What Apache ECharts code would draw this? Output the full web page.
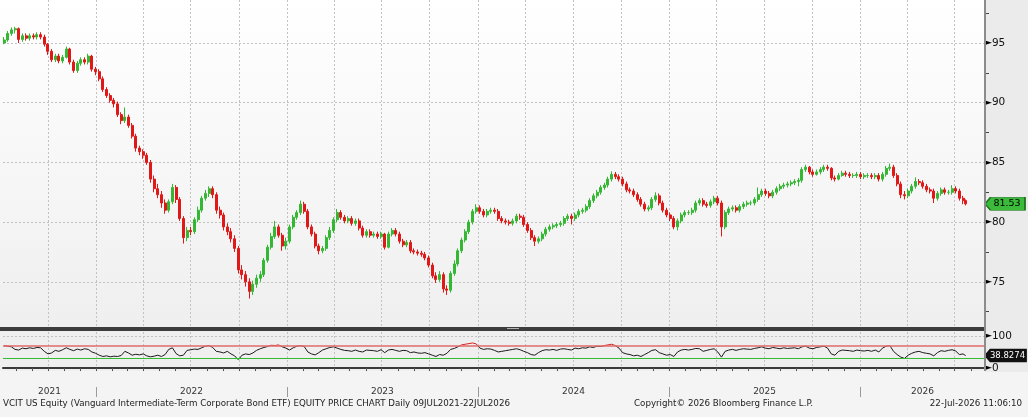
<!DOCTYPE html>
<html>
<head>
<meta charset="utf-8">
<script src="https://cdn.jsdelivr.net/npm/echarts@6/dist/echarts.min.js"></script>
<style>
html, body { margin: 0; padding: 0; background: #f4f4f4; }
#chart { width: 1028px; height: 417px; }
</style>
</head>
<body>
<div id="chart"></div>
<script>
// weekly candles, first week 09JUL2021, last bar 22JUL2026
const firstDay = Date.UTC(2021, 6, 9)
const lastDay = Date.UTC(2026, 6, 22)

const opens = [
  95.0, 95.25, 95.8, 96.1, 96.2, 95.3, 95.6, 95.4, 95.6, 95.5,
  95.7, 95.5, 94.9, 94.3, 93.6, 93.9, 93.5, 93.8, 94.5, 93.4,
  92.7, 93.3, 93.6, 93.4, 93.9, 92.8, 92.6, 92.0, 91.1, 90.6,
  90.2, 89.9, 89.0, 88.5, 88.8, 88.1, 87.2, 86.2, 85.9, 85.6,
  85.0, 83.6, 82.8, 82.3, 81.6, 81.0, 81.7, 82.9, 81.9, 80.3,
  78.7, 79.3, 79.2, 80.2, 81.0, 82.0, 82.4, 82.8, 82.3, 81.0,
  80.6, 79.6, 79.2, 78.6, 77.8, 76.0, 75.6, 75.0, 74.2, 74.8,
  75.3, 75.6, 76.8, 77.9, 78.8, 79.6, 78.9, 78.0, 78.4, 79.6,
  80.4, 80.8, 81.5, 80.9, 79.6, 79.0, 78.0, 77.6, 77.8, 78.7,
  79.3, 80.2, 80.8, 80.4, 80.1, 80.3, 79.9, 80.1, 79.5, 78.9,
  79.2, 78.9, 79.0, 78.8, 79.0, 77.9, 79.0, 79.3, 79.0, 78.4,
  78.1, 78.3, 77.6, 77.5, 77.4, 77.3, 77.0, 76.4, 75.5, 75.2,
  75.6, 74.4, 74.3, 75.7, 76.5, 77.6, 78.5, 79.2, 80.0, 80.9,
  81.2, 80.9, 80.6, 80.9, 81.0, 80.9, 80.3, 80.1, 80.0, 79.9,
  80.1, 80.5, 80.4, 79.8, 79.3, 78.7, 78.4, 78.6, 79.0, 79.4,
  79.6, 79.7, 79.8, 79.9, 80.3, 80.5, 80.3, 80.6, 80.9, 81.0,
  81.3, 81.8, 82.2, 82.5, 82.9, 83.1, 83.6, 84.0, 83.8, 83.6,
  83.2, 82.7, 82.6, 82.3, 81.9, 81.5, 81.1, 81.2, 81.9, 82.2,
  81.6, 81.0, 80.6, 80.3, 79.6, 80.1, 80.6, 80.8, 80.8, 81.0,
  81.6, 81.8, 81.5, 81.4, 81.7, 82.0, 81.6, 79.6, 80.8, 81.1,
  81.2, 81.0, 81.3, 81.5, 81.6, 81.6, 81.9, 82.3, 82.6, 82.4,
  82.2, 82.5, 82.8, 83.0, 83.1, 83.2, 83.3, 83.4, 83.5, 84.4,
  84.6, 84.2, 84.0, 84.2, 84.4, 84.6, 84.5, 83.7, 83.6, 83.9,
  84.1, 84.0, 83.9, 83.9, 84.0, 83.8, 83.9, 83.9, 83.8, 83.9,
  83.6, 84.0, 84.5, 84.6, 83.9, 83.2, 82.3, 82.2, 82.6, 83.0,
  83.4, 83.3, 83.0, 82.7, 82.6, 82.0, 82.4, 82.7, 82.5, 82.5,
  82.8, 82.6, 82.0, 81.8
]
const closes = [
  95.25, 95.8, 96.1, 96.2, 95.3, 95.6, 95.4, 95.6, 95.5, 95.7,
  95.5, 94.9, 94.3, 93.6, 93.9, 93.5, 93.8, 94.5, 93.4, 92.7,
  93.3, 93.6, 93.4, 93.9, 92.8, 92.6, 92.0, 91.1, 90.6, 90.2,
  89.9, 89.0, 88.5, 88.8, 88.1, 87.2, 86.2, 85.9, 85.6, 85.0,
  83.6, 82.8, 82.3, 81.6, 81.0, 81.7, 82.9, 81.9, 80.3, 78.7,
  79.3, 79.2, 80.2, 81.0, 82.0, 82.4, 82.8, 82.3, 81.0, 80.6,
  79.6, 79.2, 78.6, 77.8, 76.0, 75.6, 75.0, 74.2, 74.8, 75.3,
  75.6, 76.8, 77.9, 78.8, 79.6, 78.9, 78.0, 78.4, 79.6, 80.4,
  80.8, 81.5, 80.9, 79.6, 79.0, 78.0, 77.6, 77.8, 78.7, 79.3,
  80.2, 80.8, 80.4, 80.1, 80.3, 79.9, 80.1, 79.5, 78.9, 79.2,
  78.9, 79.0, 78.8, 79.0, 77.9, 79.0, 79.3, 79.0, 78.4, 78.1,
  78.3, 77.6, 77.5, 77.4, 77.3, 77.0, 76.4, 75.5, 75.2, 75.6,
  74.4, 74.3, 75.7, 76.5, 77.6, 78.5, 79.2, 80.0, 80.9, 81.2,
  80.9, 80.6, 80.9, 81.0, 80.9, 80.3, 80.1, 80.0, 79.9, 80.1,
  80.5, 80.4, 79.8, 79.3, 78.7, 78.4, 78.6, 79.0, 79.4, 79.6,
  79.7, 79.8, 79.9, 80.3, 80.5, 80.3, 80.6, 80.9, 81.0, 81.3,
  81.8, 82.2, 82.5, 82.9, 83.1, 83.6, 84.0, 83.8, 83.6, 83.2,
  82.7, 82.6, 82.3, 81.9, 81.5, 81.1, 81.2, 81.9, 82.2, 81.6,
  81.0, 80.6, 80.3, 79.6, 80.1, 80.6, 80.8, 80.8, 81.0, 81.6,
  81.8, 81.5, 81.4, 81.7, 82.0, 81.6, 79.6, 80.8, 81.1, 81.2,
  81.0, 81.3, 81.5, 81.6, 81.6, 81.9, 82.3, 82.6, 82.4, 82.2,
  82.5, 82.8, 83.0, 83.1, 83.2, 83.3, 83.4, 83.5, 84.4, 84.6,
  84.2, 84.0, 84.2, 84.4, 84.6, 84.5, 83.7, 83.6, 83.9, 84.1,
  84.0, 83.9, 83.9, 84.0, 83.8, 83.9, 83.9, 83.8, 83.9, 83.6,
  84.0, 84.5, 84.6, 83.9, 83.2, 82.3, 82.2, 82.6, 83.0, 83.4,
  83.3, 83.0, 82.7, 82.6, 82.0, 82.4, 82.7, 82.5, 82.5, 82.8,
  82.6, 82.0, 81.8, 81.53
]
const lows = [
  94.9, 95.1, 95.6, 95.8, 95.0, 95.1, 95.2, 95.2, 95.3, 95.3,
  95.3, 94.7, 94.0, 93.4, 93.4, 93.3, 93.3, 93.7, 93.2, 92.5,
  92.5, 93.1, 93.2, 93.2, 92.6, 92.3, 91.8, 90.9, 90.4, 90.0,
  89.6, 88.8, 88.2, 88.3, 87.9, 87.0, 85.9, 85.6, 85.3, 84.8,
  83.3, 82.5, 82.0, 81.2, 80.7, 80.8, 81.5, 81.6, 80.1, 78.2,
  78.4, 78.9, 79.0, 80.0, 80.8, 81.8, 82.1, 82.0, 80.7, 80.3,
  79.3, 78.9, 78.3, 77.5, 75.7, 75.2, 74.6, 73.6, 73.9, 74.5,
  75.0, 75.4, 76.6, 77.7, 78.6, 78.7, 77.6, 77.7, 78.2, 79.4,
  80.2, 80.6, 80.7, 79.4, 78.8, 77.8, 77.3, 77.4, 77.6, 78.5,
  79.1, 80.0, 80.2, 79.9, 79.9, 79.7, 79.7, 79.3, 78.7, 78.7,
  78.7, 78.7, 78.6, 78.6, 77.7, 77.8, 78.8, 78.8, 78.2, 77.9,
  77.9, 77.4, 77.3, 77.2, 77.1, 76.8, 76.2, 75.3, 74.9, 75.0,
  74.1, 73.9, 74.1, 75.5, 76.3, 77.4, 78.3, 79.0, 79.8, 80.7,
  80.7, 80.4, 80.4, 80.7, 80.7, 80.1, 79.9, 79.8, 79.7, 79.7,
  79.9, 80.2, 79.6, 79.1, 78.5, 78.0, 78.2, 78.4, 78.8, 79.2,
  79.4, 79.5, 79.6, 79.7, 80.1, 79.8, 80.1, 80.4, 80.7, 80.8,
  81.1, 81.6, 82.0, 82.3, 82.7, 82.9, 83.4, 83.6, 83.4, 83.0,
  82.5, 82.4, 82.1, 81.7, 81.3, 80.9, 80.9, 81.0, 81.7, 81.4,
  80.8, 80.4, 80.1, 79.4, 79.3, 79.9, 80.4, 80.6, 80.6, 80.8,
  81.4, 81.3, 81.2, 81.2, 81.5, 81.4, 78.8, 79.4, 80.6, 80.9,
  80.8, 80.8, 81.1, 81.3, 81.4, 81.4, 81.7, 82.1, 82.2, 82.0,
  82.0, 82.3, 82.6, 82.8, 82.9, 83.0, 83.1, 83.0, 83.3, 84.2,
  84.0, 83.8, 83.9, 84.0, 84.2, 84.3, 83.5, 83.4, 83.5, 83.8,
  83.8, 83.7, 83.7, 83.7, 83.6, 83.6, 83.7, 83.6, 83.6, 83.4,
  83.4, 83.8, 84.3, 83.7, 83.0, 82.0, 81.9, 82.0, 82.4, 82.8,
  83.1, 82.8, 82.5, 82.4, 81.6, 81.8, 82.2, 82.3, 82.3, 82.3,
  82.4, 81.8, 81.5, 81.4
]
const highs = [
  95.5, 96.0, 96.3, 96.35, 96.3, 95.8, 95.8, 95.8, 95.8, 95.9,
  95.9, 95.7, 95.0, 94.5, 94.1, 94.1, 94.0, 94.7, 94.6, 93.6,
  93.5, 93.8, 93.8, 94.1, 94.0, 93.0, 92.8, 92.2, 91.3, 90.8,
  90.4, 90.1, 89.2, 89.6, 89.0, 88.3, 87.4, 86.4, 86.1, 85.8,
  85.2, 83.9, 83.2, 82.6, 81.9, 81.9, 83.2, 83.1, 82.1, 80.5,
  79.6, 79.6, 80.4, 81.3, 82.2, 82.7, 83.0, 83.0, 82.5, 81.3,
  80.8, 79.9, 79.5, 78.9, 78.0, 76.4, 75.9, 75.3, 75.1, 75.6,
  75.9, 77.0, 78.1, 79.1, 80.1, 79.8, 79.1, 78.7, 79.8, 80.6,
  81.0, 81.8, 81.7, 81.1, 79.8, 79.2, 78.2, 78.0, 78.9, 79.6,
  80.4, 81.1, 81.0, 80.6, 80.5, 80.5, 80.3, 80.3, 79.7, 79.4,
  79.4, 79.2, 79.2, 79.2, 79.1, 79.2, 79.5, 79.5, 79.2, 78.6,
  78.5, 78.5, 77.8, 77.7, 77.6, 77.5, 77.2, 76.6, 75.8, 75.9,
  75.8, 74.7, 75.9, 76.8, 77.8, 78.7, 79.4, 80.2, 81.1, 81.5,
  81.4, 81.1, 81.1, 81.2, 81.2, 81.1, 80.5, 80.3, 80.2, 80.3,
  80.7, 80.7, 80.6, 80.0, 79.5, 78.9, 78.8, 79.2, 79.6, 79.8,
  79.9, 80.0, 80.1, 80.5, 80.7, 80.7, 80.8, 81.1, 81.2, 81.5,
  82.0, 82.4, 82.7, 83.1, 83.3, 83.8, 84.25, 84.2, 84.0, 83.8,
  83.4, 82.9, 82.8, 82.5, 82.1, 81.7, 81.4, 82.1, 82.5, 82.4,
  81.8, 81.2, 80.8, 80.5, 80.3, 80.8, 81.0, 81.0, 81.2, 81.8,
  82.0, 82.0, 81.7, 81.9, 82.2, 82.2, 81.8, 81.0, 81.3, 81.4,
  81.4, 81.5, 81.7, 81.8, 81.8, 82.1, 82.9, 82.8, 82.8, 82.6,
  82.7, 83.0, 83.2, 83.3, 83.4, 83.5, 83.6, 83.7, 84.6, 84.8,
  84.7, 84.4, 84.4, 84.6, 84.8, 84.8, 84.6, 83.9, 84.1, 84.3,
  84.3, 84.2, 84.1, 84.2, 84.2, 84.1, 84.1, 84.1, 84.1, 84.1,
  84.2, 84.7, 84.9, 84.8, 84.1, 83.4, 82.6, 82.8, 83.2, 83.75,
  83.6, 83.5, 83.2, 82.9, 82.8, 82.6, 82.9, 82.9, 82.7, 83.1,
  83.0, 82.8, 82.2, 81.9
]
const rsi = [
  70, 68, 66, 58, 56, 62, 60, 63, 61, 64,
  63, 52, 44, 47, 55, 52, 57, 63, 58, 54,
  59, 56, 60, 58, 50, 46, 40, 36, 38, 35,
  37, 36, 39, 52, 47, 40, 43, 41, 44, 38,
  35, 37, 40, 36, 42, 58, 63, 45, 38, 40,
  55, 57, 59, 58, 63, 68, 70, 64, 52, 50,
  47, 52, 44, 38, 25, 40, 44, 42, 47, 55,
  60, 64, 67, 71, 70, 72, 66, 62, 56, 63,
  68, 70, 67, 50, 44, 41, 48, 56, 60, 64,
  66, 62, 58, 55, 54, 52, 56, 52, 50, 56,
  55, 54, 52, 57, 48, 56, 58, 55, 52, 55,
  54, 48, 50, 47, 46, 48, 44, 40, 36, 42,
  40, 46, 58, 61, 66, 72, 74, 76, 78, 75,
  62, 58, 60, 59, 55, 50, 52, 54, 56, 58,
  60, 57, 52, 48, 42, 40, 48, 54, 57, 56,
  58, 55, 59, 60, 58, 56, 62, 60, 63, 62,
  66, 64, 68, 67, 70, 72, 74, 70, 62, 48,
  44, 42, 38, 40, 36, 42, 48, 55, 57, 48,
  44, 40, 42, 36, 50, 56, 58, 56, 58, 61,
  60, 52, 55, 58, 60, 50, 34, 52, 56, 58,
  55, 58, 60, 59, 58, 61, 63, 66, 62, 60,
  64, 62, 60, 63, 61, 62, 63, 60, 66, 68,
  62, 60, 64, 66, 68, 62, 44, 40, 52, 56,
  55, 54, 52, 56, 54, 53, 55, 52, 56, 50,
  62, 68, 70, 52, 42, 34, 30, 40, 46, 50,
  52, 48, 46, 44, 38, 48, 54, 52, 55, 57,
  53, 42, 44, 38.8274
]

const priceTicks = [75, 80, 85, 90, 95]
const priceMinorTicks = [72.5, 77.5, 82.5, 87.5, 92.5, 97.5]
const rsiTicks = [0, 100]
const rsiBands = [70, 30]
const years = [2021, 2022, 2023, 2024, 2025, 2026]
const lastPrice = 81.53
const lastRsi = 38.8274

const DAY = 86400000
const axisMin = Date.UTC(2021, 6, 7)
const axisMax = Date.UTC(2026, 7, 28)
const font = 'DejaVu Sans'

const dates = closes.map((c, i) => i === closes.length - 1 ? lastDay : firstDay + i * 7 * DAY)
const candles = dates.map((d, i) => [d, opens[i], closes[i], lows[i], highs[i]])
const rsiData = dates.map((d, i) => [d, rsi[i]])

// month / quarter / year positions on the date axis (timestamps)
const months = [], quarters = [], yearStarts = [], yearMids = []
years.forEach(y => {
  for (let m = 0; m < 12; m++) {
    const t = Date.UTC(y, m, 1)
    if (t <= axisMin || t >= axisMax) continue
    months.push(t)
    if (m % 3 === 0) quarters.push(t)
    if (m === 0) yearStarts.push(t)
  }
  const a = Math.max(axisMin, Date.UTC(y, 0, 1))
  const b = Math.min(axisMax, Date.UTC(y + 1, 0, 1))
  yearMids.push((a + b) / 2)
})

const dash = { color: '#c2c2c2', type: [2, 2], width: 1 }
const arrowLabel = {
  show: true, margin: 0, color: '#111', fontFamily: font, fontSize: 10.5,
  formatter: v => '{a|►}' + v,
  rich: { a: { fontSize: 9, color: '#000', fontFamily: font } }
}
const tagShape = 'path://M0,6 L6,0 L44,0 L44,12 L6,12 Z'
// dates are kept as plain numbers on a value axis
const dateAxis = (grid, extra) => Object.assign({
  type: 'value', gridIndex: grid, min: axisMin, max: axisMax,
  axisLine: { show: false }, axisLabel: { show: false },
  axisTick: { show: false }, splitLine: { show: false }
}, extra)

const chart = echarts.init(document.getElementById('chart'))
chart.setOption({
  animation: false,
  grid: [
    { left: 3, right: 43, top: 0, height: 326 },
    { left: 3, right: 43, top: 332, height: 39 }
  ],
  xAxis: [
    dateAxis(0, { axisTick: { show: false, customValues: quarters }, splitLine: { show: true, lineStyle: dash } }),
    dateAxis(1, {
      axisLine: { show: true, lineStyle: { color: '#3a3a3a', width: 2 } },
      axisTick: { show: true, customValues: months, length: 3, lineStyle: { color: '#555' } }
    }),
    dateAxis(1, { axisTick: { show: false, customValues: quarters }, splitLine: { show: true, lineStyle: dash } }),
    dateAxis(1, {
      position: 'bottom', offset: 16,
      axisTick: { show: true, customValues: yearStarts, length: 10, lineStyle: { color: '#9a9a9a' } },
      axisLabel: {
        show: true, customValues: yearMids, margin: 0, color: '#333', fontFamily: font, fontSize: 9,
        formatter: v => String(new Date(v).getUTCFullYear())
      }
    })
  ],
  yAxis: [
    {
      type: 'value', gridIndex: 0, position: 'right', min: 71.3, max: 98.6,
      axisLine: { show: false },
      axisTick: { show: false, customValues: priceTicks },
      axisLabel: Object.assign({ customValues: priceTicks }, arrowLabel),
      splitLine: { show: true, lineStyle: dash }
    },
    {
      type: 'value', gridIndex: 0, position: 'right', min: 71.3, max: 98.6,
      axisLine: { show: false },
      axisTick: { show: true, customValues: priceMinorTicks, length: 4, lineStyle: { color: '#444' } },
      axisLabel: { show: false }, splitLine: { show: false }
    },
    {
      type: 'value', gridIndex: 1, position: 'right', min: -9, max: 112,
      axisLine: { show: false },
      axisTick: { show: false, customValues: rsiTicks },
      axisLabel: Object.assign({ customValues: rsiTicks }, arrowLabel),
      splitLine: { show: true, lineStyle: dash }
    }
  ],
  visualMap: {
    show: false, type: 'piecewise', seriesIndex: 1, dimension: 1,
    pieces: [
      { gt: 70, color: '#d42020' },
      { lt: 30, color: '#1f9f1f' },
      { gte: 30, lte: 70, color: '#1a1a1a' }
    ]
  },
  series: [
    {
      type: 'candlestick', xAxisIndex: 0, yAxisIndex: 0, clip: false,
      data: candles, encode: { x: 0, y: [1, 2, 3, 4] }, barWidth: 2.5,
      itemStyle: { color: '#34b834', color0: '#e01818', borderColor: '#34b834', borderColor0: '#e01818', borderWidth: 1 },
      markPoint: {
        silent: true, symbol: tagShape, symbolKeepAspect: false,
        symbolSize: [40, 13], symbolOffset: [20, 0],
        itemStyle: { color: '#3cba3c', borderColor: '#1d6e1d', borderWidth: 1 },
        label: { show: true, color: '#000', fontFamily: font, fontSize: 9.5, offset: [2, 0], formatter: () => lastPrice.toFixed(2) },
        data: [{ coord: [axisMax, lastPrice] }]
      }
    },
    {
      type: 'line', xAxisIndex: 1, yAxisIndex: 2, clip: false,
      data: rsiData, symbol: 'none', lineStyle: { width: 1 },
      markLine: {
        silent: true, symbol: 'none', label: { show: false },
        data: [
          { yAxis: rsiBands[0], lineStyle: { color: '#e06a6a', width: 1.5, type: 'solid' } },
          { yAxis: rsiBands[1], lineStyle: { color: '#33bb33', width: 1.2, type: 'solid' } }
        ]
      },
      markPoint: {
        silent: true, symbol: tagShape, symbolKeepAspect: false,
        symbolSize: [41, 13], symbolOffset: [20.5, 0],
        itemStyle: { color: '#111', borderColor: '#111', borderWidth: 1 },
        label: { show: true, color: '#fff', fontFamily: font, fontSize: 8.5, offset: [2, 0], formatter: () => String(lastRsi) },
        data: [{ coord: [axisMax, lastRsi] }]
      }
    }
  ],
  graphic: [
    {
      type: 'rect', z: -10, shape: { x: 0, y: 0, width: 985, height: 327 },
      style: { fill: new echarts.graphic.LinearGradient(0, 0, 0, 1, [{ offset: 0, color: '#ffffff' }, { offset: 1, color: '#efefef' }]) }
    },
    { type: 'rect', z: -10, shape: { x: 0, y: 331, width: 985, height: 40 }, style: { fill: '#efefef' } },
    { type: 'rect', z: -10, shape: { x: 985, y: 0, width: 43, height: 372 }, style: { fill: '#ebebeb' } },
    { type: 'rect', z: 20, shape: { x: 0, y: 327, width: 985, height: 4 }, style: { fill: '#3c3c3c' } },
    { type: 'rect', z: 21, shape: { x: 507, y: 328, width: 12, height: 1 }, style: { fill: '#b0b0b0' } },
    { type: 'rect', z: 20, shape: { x: 984, y: 0, width: 2, height: 371 }, style: { fill: '#8c8c8c' } },
    {
      type: 'text', left: 3, top: 399,
      style: { text: 'VCIT US Equity (Vanguard Intermediate-Term Corporate Bond ETF) EQUITY PRICE CHART Daily 09JUL2021-22JUL2026', fill: '#222', font: '8.7px "DejaVu Sans"' }
    },
    {
      type: 'text', left: 634, top: 399,
      style: { text: 'Copyright© 2026 Bloomberg Finance L.P.', fill: '#222', font: '8.7px "DejaVu Sans"' }
    },
    {
      type: 'text', right: 6, top: 399,
      style: { text: '22-Jul-2026 11:06:10', fill: '#222', font: '8.7px "DejaVu Sans"' }
    }
  ]
})
</script>
</body>
</html>
